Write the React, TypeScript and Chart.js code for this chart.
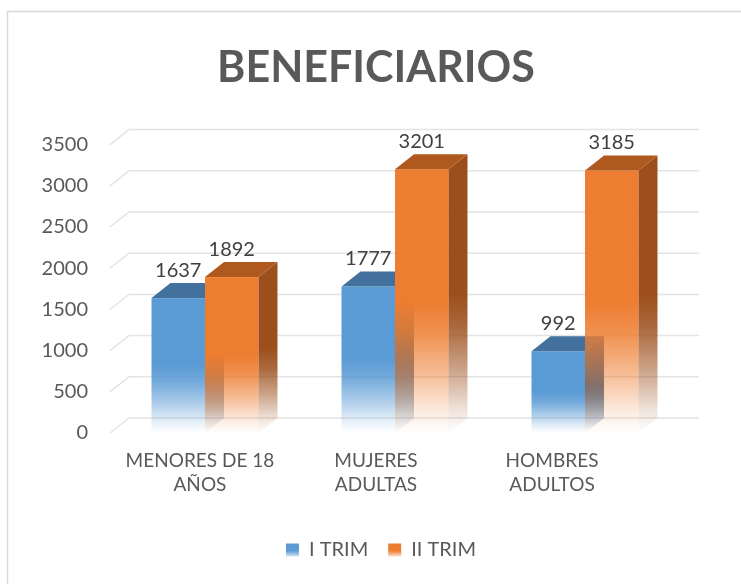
import React, { useEffect, useRef } from 'react';
import { Chart, registerables } from 'chart.js';

Chart.register(...registerables);

// ---- data ----
const categories: string[][] = [
  ['MENORES DE 18', 'AÑOS'],
  ['MUJERES', 'ADULTAS'],
  ['HOMBRES', 'ADULTOS'],
];
const seriesNames = ['I TRIM', 'II TRIM'];
const trim1 = [1637, 1777, 992];
const trim2 = [1892, 3201, 3185];
const yTickValues = [0, 500, 1000, 1500, 2000, 2500, 3000, 3500];

// ---- style ----
const FRONT = ['#5B9BD5', '#ED7D31'];
const TOP = ['#41719C', '#B0591F'];
const SIDE = ['#3A6690', '#9C4E1B'];
const DX = 19;
const DY = -15;
const FONT = 'Lato, "Open Sans", sans-serif';
const TEXT = '#595959';
const LABEL = '#404040';

function rgba(hex: string, a: number) {
  const n = parseInt(hex.slice(1), 16);
  return `rgba(${(n >> 16) & 255},${(n >> 8) & 255},${n & 255},${a})`;
}

function fade(ctx: CanvasRenderingContext2D, color: string, top: number, base: number) {
  const g = ctx.createLinearGradient(0, top, 0, base);
  g.addColorStop(0, rgba(color, 1));
  g.addColorStop(0.5, rgba(color, 1));
  g.addColorStop(0.62, rgba(color, 0.85));
  g.addColorStop(0.78, rgba(color, 0.5));
  g.addColorStop(0.92, rgba(color, 0.15));
  g.addColorStop(1, rgba(color, 0));
  return g;
}

const bars3d = {
  id: 'bars3d',
  afterLayout(chart: any) {
    const lg = chart.legend;
    if (lg) {
      lg.left += 5;
      lg.right += 5;
    }
  },
  beforeDraw(chart: any) {
    const { ctx, width, height } = chart;
    ctx.save();
    ctx.strokeStyle = '#D9D9D9';
    ctx.lineWidth = 1.5;
    ctx.beginPath();
    ctx.moveTo(7.5, height);
    ctx.lineTo(7.5, 11.5);
    ctx.lineTo(width, 11.5);
    ctx.stroke();
    ctx.restore();
    const lg = chart.legend;
    if (lg && lg.legendItems && lg.legendHitBoxes) {
      lg.legendItems.forEach((it: any, i: number) => {
        const hb = lg.legendHitBoxes[i];
        if (!hb) return;
        const top = hb.top + 3.5;
        const g = ctx.createLinearGradient(0, top, 0, top + 13);
        const c = FRONT[i];
        g.addColorStop(0, rgba(c, 1));
        g.addColorStop(0.55, rgba(c, 1));
        g.addColorStop(1, rgba(c, 0.25));
        it.fillStyle = g;
        it.lineWidth = 0;
        it.strokeStyle = 'rgba(0,0,0,0)';
      });
    }
  },
  beforeDatasetsDraw(chart: any) {
    const { ctx, chartArea, scales } = chart;
    const y = scales.y;
    ctx.save();
    ctx.strokeStyle = '#E4E4E4';
    ctx.lineWidth = 1.5;
    yTickValues.forEach((v) => {
      const py = y.getPixelForValue(v);
      ctx.beginPath();
      ctx.moveTo(chartArea.left, py);
      ctx.lineTo(chartArea.left + DX, py + DY);
      ctx.lineTo(chartArea.right + DX, py + DY);
      ctx.stroke();
    });
    ctx.restore();
  },
  beforeDatasetDraw() {
    return false;
  },
  afterDatasetsDraw(chart: any) {
    const { ctx } = chart;
    ctx.save();
    chart.data.datasets.forEach((ds: any, di: number) => {
      const meta = chart.getDatasetMeta(di);
      meta.data.forEach((el: any) => {
        const xl = el.x - el.width / 2;
        const xr = el.x + el.width / 2;
        const top = el.y;
        const base = el.base;
        // front
        ctx.fillStyle = fade(ctx, FRONT[di], top, base);
        ctx.fillRect(xl, top, xr - xl, base - top);
        // side
        ctx.beginPath();
        ctx.moveTo(xr, top);
        ctx.lineTo(xr + DX, top + DY);
        ctx.lineTo(xr + DX, base + DY);
        ctx.lineTo(xr, base);
        ctx.closePath();
        ctx.fillStyle = fade(ctx, SIDE[di], top + DY, base);
        ctx.fill();
        // top
        ctx.beginPath();
        ctx.moveTo(xl, top);
        ctx.lineTo(xr, top);
        ctx.lineTo(xr + DX, top + DY);
        ctx.lineTo(xl + DX, top + DY);
        ctx.closePath();
        ctx.fillStyle = TOP[di];
        ctx.fill();
      });
    });
    ctx.font = `20px ${FONT}`;
    ctx.fillStyle = LABEL;
    ctx.textAlign = 'center';
    ctx.textBaseline = 'middle';
    chart.data.datasets.forEach((ds: any, di: number) => {
      const meta = chart.getDatasetMeta(di);
      meta.data.forEach((el: any, i: number) => {
        ctx.fillText(String(ds.data[i]), el.x, el.y + DY - 13);
      });
    });
    ctx.restore();
  },
};

export default function App() {
  const ref = useRef<HTMLCanvasElement | null>(null);
  useEffect(() => {
    if (!ref.current) return;
    const chart = new Chart(ref.current, {
      type: 'bar',
      data: {
        labels: categories.map((c) => c.join(' ')),
        datasets: [
          { label: seriesNames[0], data: trim1, backgroundColor: FRONT[0], borderWidth: 0 },
          { label: seriesNames[1], data: trim2, backgroundColor: FRONT[1], borderWidth: 0 },
        ],
      },
      options: {
        responsive: false,
        animation: false,
        events: [],
        layout: { padding: { left: 40, right: 29, top: 0, bottom: 14 } },
        datasets: { bar: { categoryPercentage: 0.563, barPercentage: 1 } },
        scales: {
          x: { display: false },
          xl: {
            type: 'linear',
            position: 'bottom',
            offset: false,
            bounds: 'data',
            min: -0.511,
            max: 2.727,
            grid: { display: false, drawTicks: false, offset: false },
            border: { display: false },
            afterBuildTicks: (s: any) => {
              s.ticks = categories.map((_, i) => ({ value: i }));
            },
            afterFit: (s: any) => {
              s.height = 87;
            },
            ticks: {
              autoSkip: false,
              maxRotation: 0,
              padding: 16,
              color: TEXT,
              font: { family: FONT, size: 19, lineHeight: 1.27 },
              callback: (_v: any, i: number) => categories[i],
            },
          },
          y: {
            min: 0,
            max: 3500,
            grid: { display: false, drawTicks: false },
            border: { display: false },
            afterFit: (s: any) => {
              s.width = 70;
            },
            ticks: {
              stepSize: 500,
              padding: 22,
              color: TEXT,
              font: { family: FONT, size: 20 },
              callback: (v: any) => String(v),
            },
          },
          yr: {
            type: 'linear',
            position: 'right',
            grid: { display: false, drawTicks: false },
            border: { display: false },
            ticks: { display: false },
            afterFit: (s: any) => {
              s.width = 32;
            },
          },
        } as any,
        plugins: {
          title: {
            display: true,
            text: 'BENEFICIARIOS',
            color: TEXT,
            font: { family: FONT, size: 43, weight: 'bold' },
            padding: { top: 42, bottom: 51 },
          },
          legend: {
            position: 'bottom',
            labels: {
              boxWidth: 13,
              boxHeight: 13,
              padding: 20,
              color: TEXT,
              font: { family: FONT, size: 20 },
            },
          },
          tooltip: { enabled: false },
        },
      },
      plugins: [bars3d],
    } as any);
    return () => chart.destroy();
  }, []);
  return (
    <div style={{ position: 'absolute', left: 0, top: 0, width: 741, height: 584, background: '#fff' }}>
      <canvas ref={ref} width={741} height={584} style={{ width: 741, height: 584, display: 'block' }} />
    </div>
  );
}
